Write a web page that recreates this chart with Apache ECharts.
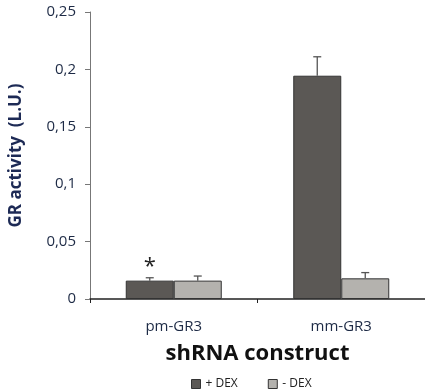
<!DOCTYPE html>
<html>
<head>
<meta charset="utf-8">
<script src="https://cdn.jsdelivr.net/npm/echarts@6/dist/echarts.min.js"></script>
<style>
  html, body { margin: 0; padding: 0; background: #fff; }
  #chart { width: 425px; height: 391px; }
</style>
</head>
<body>
<div id="chart"></div>
<script>
  const categories = ['pm-GR3', 'mm-GR3'];
  const seriesNames = ['+ DEX', '- DEX'];
  const plusDex = [0.016, 0.1945];
  const minusDex = [0.016, 0.018];
  const plusDexErr = [0.0025, 0.0165];
  const minusDexErr = [0.004, 0.005];
  const yTicks = [0, 0.05, 0.1, 0.15, 0.2, 0.25];

  const barWidth = 48;
  const colors = ['#5b5855', '#b4b2ae'];
  const font = '"Open Sans", "Noto Sans", sans-serif';

  // error bar data: [categoryIndex, mean, err, seriesIndex]
  const errData = [];
  categories.forEach((c, i) => {
    errData.push([i, plusDex[i], plusDexErr[i], 0]);
    errData.push([i, minusDex[i], minusDexErr[i], 1]);
  });

  const chart = echarts.init(document.getElementById('chart'));
  chart.setOption({
    animation: false,
    grid: { left: 90, right: -4, top: 12, bottom: 92 },
    legend: {
      data: seriesNames.map(n => ({ name: n, icon: 'rect' })),
      bottom: -4,
      left: 186,
      itemWidth: 9,
      itemHeight: 9,
      itemGap: 30,
      textStyle: { fontFamily: font, fontSize: 12, color: '#222' },
      itemStyle: { borderColor: '#333', borderWidth: 1 }
    },
    xAxis: {
      type: 'category',
      data: categories,
      name: 'shRNA construct',
      nameLocation: 'middle',
      nameGap: 44,
      nameTextStyle: { fontFamily: font, fontSize: 22, fontWeight: 'bold', color: '#111' },
      axisLine: { lineStyle: { color: '#222', width: 1.5 } },
      axisTick: { show: true, length: 4, lineStyle: { color: '#222' } },
      axisLabel: { margin: 20, fontFamily: font, fontSize: 15, color: '#1d2a45' }
    },
    yAxis: {
      type: 'value',
      min: 0,
      max: 0.25,
      interval: 0.05,
      name: 'GR activity  (L.U.)',
      nameLocation: 'middle',
      nameGap: 65,
      nameTextStyle: { fontFamily: font, fontSize: 17, fontWeight: 'bold', color: '#1d2a55' },
      axisLine: { show: true, lineStyle: { color: '#777', width: 1 } },
      axisTick: { show: true, length: 5, lineStyle: { color: '#777' } },
      splitLine: { show: false },
      axisLabel: {
        margin: 14,
        fontFamily: font,
        fontSize: 15,
        color: '#1d2a45',
        formatter: v => yTicks.includes(+v.toFixed(2)) ? String(+v.toFixed(2)).replace('.', ',') : ''
      }
    },
    series: [
      {
        name: seriesNames[0],
        type: 'bar',
        barWidth: barWidth,
        barGap: '0%',
        itemStyle: { color: colors[0], borderColor: '#333', borderWidth: 1 },
        data: plusDex.map((v, i) => i === 0 ? {
          value: v,
          label: { show: true, position: 'top', distance: 3, formatter: '*', fontFamily: font, fontSize: 22, color: '#222' }
        } : v),
        z: 2
      },
      {
        name: seriesNames[1],
        type: 'bar',
        barWidth: barWidth,
        barGap: '0%',
        itemStyle: { color: colors[1], borderColor: '#333', borderWidth: 1 },
        data: minusDex,
        z: 2
      },
      {
        type: 'custom',
        data: errData,
        encode: { x: 0, y: 1 },
        z: 3,
        silent: true,
        renderItem: (params, api) => {
          const ci = api.value(0);
          const mean = api.value(1);
          const err = api.value(2);
          const si = api.value(3);
          const base = api.coord([ci, mean]);
          const top = api.coord([ci, mean + err]);
          const x = base[0] + (si === 0 ? -barWidth / 2 : barWidth / 2);
          const style = { stroke: '#555', lineWidth: 1.3 };
          return {
            type: 'group',
            children: [
              { type: 'line', shape: { x1: x, y1: base[1], x2: x, y2: top[1] }, style },
              { type: 'line', shape: { x1: x - 4, y1: top[1], x2: x + 4, y2: top[1] }, style }
            ]
          };
        }
      }
    ]
  });
</script>
</body>
</html>
